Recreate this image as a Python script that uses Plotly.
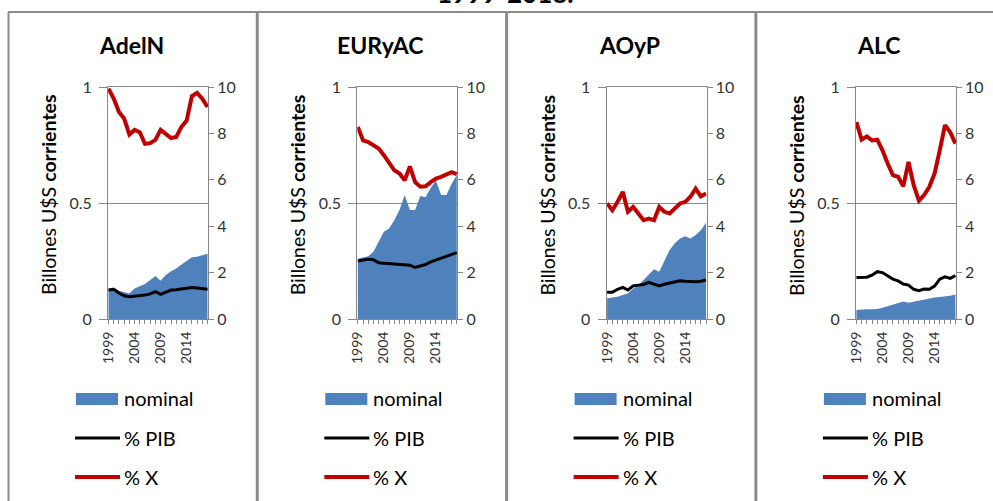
import plotly.graph_objects as go

W, H = 993, 501

years = list(range(1999, 2019))
year_labels = [str(y) if (y - 1999) % 5 == 0 else "" for y in years]
regions = ["AdelN", "EURyAC", "AOyP", "ALC"]

# nominal: billones de US$ corrientes (eje izquierdo)
nominal_adeln = [0.129, 0.136, 0.122, 0.115, 0.110, 0.132, 0.142, 0.151, 0.168, 0.185,
                 0.165, 0.190, 0.206, 0.218, 0.235, 0.250, 0.266, 0.268, 0.273, 0.281]
nominal_euryac = [0.260, 0.265, 0.270, 0.290, 0.333, 0.376, 0.390, 0.426, 0.470, 0.534,
                  0.470, 0.470, 0.530, 0.525, 0.565, 0.597, 0.535, 0.535, 0.582, 0.622]
nominal_aoyp = [0.089, 0.092, 0.096, 0.103, 0.110, 0.132, 0.146, 0.168, 0.189, 0.214,
                0.204, 0.254, 0.297, 0.326, 0.347, 0.357, 0.347, 0.362, 0.383, 0.415]
nominal_alc = [0.039, 0.042, 0.042, 0.042, 0.043, 0.049, 0.056, 0.063, 0.070, 0.075,
               0.070, 0.075, 0.079, 0.085, 0.088, 0.093, 0.095, 0.096, 0.100, 0.106]

# % PIB (eje derecho)
pib_adeln = [1.25, 1.28, 1.12, 1.00, 0.96, 0.98, 1.02, 1.03, 1.08, 1.18,
             1.06, 1.15, 1.25, 1.26, 1.30, 1.33, 1.36, 1.34, 1.32, 1.28]
pib_euryac = [2.50, 2.54, 2.58, 2.56, 2.42, 2.40, 2.38, 2.37, 2.36, 2.33,
              2.32, 2.22, 2.28, 2.35, 2.46, 2.54, 2.64, 2.69, 2.80, 2.86]
pib_aoyp = [1.15, 1.15, 1.28, 1.36, 1.25, 1.43, 1.46, 1.49, 1.58, 1.51,
            1.43, 1.50, 1.54, 1.58, 1.65, 1.63, 1.61, 1.61, 1.63, 1.68]
pib_alc = [1.79, 1.79, 1.80, 1.89, 2.04, 2.00, 1.85, 1.72, 1.64, 1.51,
           1.46, 1.28, 1.22, 1.29, 1.28, 1.42, 1.72, 1.82, 1.75, 1.87]

# % X (eje derecho)
x_adeln = [9.93, 9.50, 8.92, 8.64, 7.95, 8.15, 8.05, 7.55, 7.58, 7.72,
           8.15, 8.00, 7.80, 7.85, 8.28, 8.55, 9.60, 9.75, 9.50, 9.14]
x_euryac = [8.28, 7.70, 7.63, 7.50, 7.35, 7.06, 6.77, 6.41, 6.27, 5.98,
            6.58, 5.90, 5.70, 5.72, 5.90, 6.05, 6.13, 6.23, 6.33, 6.24]
x_aoyp = [4.98, 4.69, 5.05, 5.48, 4.62, 4.83, 4.55, 4.26, 4.33, 4.26,
          4.83, 4.62, 4.55, 4.76, 4.98, 5.05, 5.27, 5.62, 5.29, 5.41]
x_alc = [8.49, 7.73, 7.87, 7.70, 7.73, 7.27, 6.70, 6.20, 6.13, 5.72,
         6.77, 5.77, 5.10, 5.34, 5.70, 6.27, 7.27, 8.35, 8.06, 7.56]

nominal = [nominal_adeln, nominal_euryac, nominal_aoyp, nominal_alc]
pib = [pib_adeln, pib_euryac, pib_aoyp, pib_alc]
xperc = [x_adeln, x_euryac, x_aoyp, x_alc]

left_ticks = [0, 0.5, 1]
left_tick_text = ["0", "0.5", "1"]
right_ticks = [0, 2, 4, 6, 8, 10]
legend_names = ["nominal", "% PIB", "% X"]

BLUE = "#4F81BD"
BLACK = "#000000"
RED = "#C00000"
GRID = "#868686"
FRAME = "#8C8C8C"
TICKFONT = "#333333"
FONT = "Lato"


def fx(px):
    return px / W


def fy(py):
    return 1 - py / H


STEP = 249.3           # panel pitch in px
PLOT_L, PLOT_W = 108, 100
PLOT_T, PLOT_B = 87, 319

fig = go.Figure()
layout = dict(
    width=W, height=H,
    margin=dict(l=0, r=0, t=0, b=0, pad=0, autoexpand=False),
    paper_bgcolor="white", plot_bgcolor="white",
    showlegend=False,
    font=dict(family=FONT, color=TICKFONT),
)
shapes = []
annotations = []

for i, name in enumerate(regions):
    off = STEP * i
    xa = "x" if i == 0 else f"x{i + 1}"
    ya = "y" if i == 0 else f"y{i + 1}"
    yr = f"y{i + 5}"

    fig.add_trace(go.Scatter(
        x=years, y=nominal[i], xaxis=xa, yaxis=ya, name=legend_names[0],
        mode="lines", fill="tozeroy", fillcolor=BLUE,
        line=dict(width=0, color=BLUE), hoverinfo="skip"))
    fig.add_trace(go.Scatter(
        x=years, y=pib[i], xaxis=xa, yaxis=yr, name=legend_names[1],
        mode="lines", line=dict(width=3, color=BLACK), hoverinfo="skip"))
    fig.add_trace(go.Scatter(
        x=years, y=xperc[i], xaxis=xa, yaxis=yr, name=legend_names[2],
        mode="lines", line=dict(width=4, color=RED), hoverinfo="skip"))

    dom_x = [fx(PLOT_L + off), fx(PLOT_L + PLOT_W + off)]
    dom_y = [fy(PLOT_B), fy(PLOT_T)]
    xkey = "xaxis" if i == 0 else f"xaxis{i + 1}"
    ykey = "yaxis" if i == 0 else f"yaxis{i + 1}"

    layout[xkey] = dict(
        domain=dom_x, anchor=ya, range=[1998.9, 2018.1],
        tickmode="array", tickvals=years, ticktext=year_labels,
        tickangle=-90, ticks="outside", ticklen=4, tickcolor=GRID,
        tickfont=dict(size=14, color=TICKFONT, family=FONT),
        ticklabelstandoff=2,
        showline=True, linecolor=GRID, linewidth=1, mirror=True,
        showgrid=False, zeroline=False, fixedrange=True, automargin=False)
    layout[ykey] = dict(
        domain=dom_y, anchor=xa, range=[0, 1], side="left",
        tickmode="array", tickvals=left_ticks, ticktext=left_tick_text,
        ticks="outside", ticklen=8, tickcolor=GRID,
        tickfont=dict(size=16, color=TICKFONT, family=FONT),
        ticklabelstandoff=4,
        showline=True, linecolor=GRID, linewidth=1,
        showgrid=True, gridcolor=GRID, gridwidth=1, zeroline=False,
        fixedrange=True, automargin=False)
    layout[f"yaxis{i + 5}"] = dict(
        overlaying=ya, anchor=xa, range=[0, 10], side="right",
        tickmode="array", tickvals=right_ticks,
        ticks="outside", ticklen=5, tickcolor=GRID,
        tickfont=dict(size=16, color=TICKFONT, family=FONT),
        showline=True, linecolor=GRID, linewidth=1,
        showgrid=False, zeroline=False, fixedrange=True, automargin=False)

    # panel title
    annotations.append(dict(
        text=f"<b>{name}</b>", x=fx(131 + off), y=fy(45), xref="paper", yref="paper",
        xanchor="center", yanchor="middle", showarrow=False,
        font=dict(size=23, color="black", family=FONT)))
    # left axis title
    annotations.append(dict(
        text="Billones U$S <b>corrientes</b>", textangle=-90,
        x=fx(48 + off), y=fy(195), xref="paper", yref="paper",
        xanchor="center", yanchor="middle", showarrow=False,
        font=dict(size=19.5, color="black", family=FONT)))

    # legend keys
    lx0, lx1 = 76 + off, 118 + off
    shapes.append(dict(type="rect", xref="paper", yref="paper",
                       x0=fx(lx0), x1=fx(lx1), y0=fy(405), y1=fy(393),
                       fillcolor=BLUE, line=dict(width=0)))
    shapes.append(dict(type="line", xref="paper", yref="paper",
                       x0=fx(lx0 - 1), x1=fx(lx1 + 2), y0=fy(438), y1=fy(438),
                       line=dict(color=BLACK, width=3)))
    shapes.append(dict(type="line", xref="paper", yref="paper",
                       x0=fx(lx0 - 1), x1=fx(lx1 + 2), y0=fy(477), y1=fy(477),
                       line=dict(color=RED, width=4)))
    for lbl, ly in zip(legend_names, [398, 438, 477]):
        annotations.append(dict(
            text=lbl, x=fx(122 + off), y=fy(ly), xref="paper", yref="paper",
            xanchor="left", yanchor="middle", showarrow=False,
            font=dict(size=20, color="black", family=FONT)))

# chart frames: top rule, outer left border and panel separators
shapes.append(dict(type="line", xref="paper", yref="paper",
                   x0=fx(8), x1=1, y0=fy(12), y1=fy(12),
                   line=dict(color=FRAME, width=2)))
shapes.append(dict(type="line", xref="paper", yref="paper",
                   x0=fx(8.5), x1=fx(8.5), y0=fy(12), y1=0,
                   line=dict(color=FRAME, width=2)))
for k in range(1, 4):
    xs = 8 + STEP * k
    shapes.append(dict(type="line", xref="paper", yref="paper",
                       x0=fx(xs), x1=fx(xs), y0=fy(12), y1=0,
                       line=dict(color=FRAME, width=3)))

# main heading, mostly above the top edge
annotations.append(dict(
    text="<b>1999-2018.</b>", x=fx(505), y=fy(11), xref="paper", yref="paper",
    xanchor="center", yanchor="bottom", showarrow=False,
    font=dict(size=26, color="black", family=FONT)))

layout["shapes"] = shapes
layout["annotations"] = annotations
fig.update_layout(**layout)

fig.write_html("out.html")
